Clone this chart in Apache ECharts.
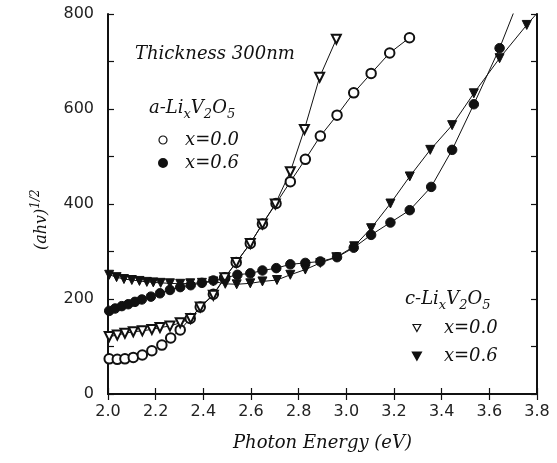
<!DOCTYPE html>
<html>
<head>
<meta charset="utf-8">
<script src="https://cdn.jsdelivr.net/npm/echarts@6/dist/echarts.min.js"></script>
<style>
  html, body { margin: 0; padding: 0; background: #fff; }
  #chart { width: 557px; height: 463px; }
</style>
</head>
<body>
<div id="chart"></div>
<script>
// a-LixV2O5, x = 0.0 (open circles)
const aZeroE = [2.005, 2.039, 2.071, 2.106, 2.144, 2.184, 2.226, 2.263, 2.303, 2.345, 2.387, 2.442, 2.49, 2.538, 2.597, 2.648, 2.705, 2.765, 2.828, 2.891, 2.961, 3.031, 3.104, 3.182, 3.265]
const aZeroV = [74, 73, 74, 77, 82, 91, 103, 118, 135, 159, 183, 210, 245, 277, 317, 358, 401, 447, 494, 543, 587, 634, 675, 718, 750]

// a-LixV2O5, x = 0.6 (filled circles)
const aSixE = [2.005, 2.03, 2.058, 2.085, 2.113, 2.142, 2.18, 2.218, 2.26, 2.303, 2.347, 2.394, 2.442, 2.487, 2.543, 2.597, 2.648, 2.706, 2.765, 2.828, 2.891, 2.961, 3.031, 3.104, 3.185, 3.266, 3.356, 3.444, 3.535, 3.643, 3.735]
const aSixV = [175, 180, 185, 189, 194, 199, 205, 212, 219, 225, 229, 234, 239, 244, 251, 254, 260, 265, 273, 276, 279, 288, 308, 335, 361, 387, 436, 514, 610, 728, 845]

// c-LixV2O5, x = 0.0 (open triangles)
const cZeroE = [2.005, 2.039, 2.071, 2.106, 2.144, 2.184, 2.218, 2.26, 2.303, 2.347, 2.387, 2.442, 2.49, 2.538, 2.597, 2.648, 2.702, 2.765, 2.824, 2.888, 2.958]
const cZeroV = [121, 124, 128, 131, 133, 136, 140, 143, 150, 159, 183, 208, 245, 277, 317, 358, 400, 468, 557, 667, 747]

// c-LixV2O5, x = 0.6 (filled triangles)
const cSixE = [2.005, 2.036, 2.067, 2.1, 2.132, 2.163, 2.19, 2.221, 2.26, 2.303, 2.345, 2.394, 2.442, 2.492, 2.54, 2.597, 2.648, 2.709, 2.765, 2.828, 2.891, 2.958, 3.033, 3.104, 3.185, 3.266, 3.352, 3.444, 3.535, 3.643, 3.757, 3.85]
const cSixV = [251, 246, 242, 240, 238, 236, 235, 234, 233, 232, 233, 234, 237, 232, 231, 233, 237, 240, 251, 262, 276, 288, 311, 349, 401, 458, 514, 566, 633, 707, 777, 830]

const xTicks = ['2.0', '2.2', '2.4', '2.6', '2.8', '3.0', '3.2', '3.4', '3.6', '3.8']
const yTicks = ['0', '200', '400', '600', '800']

const zip = (xs, ys) => xs.map((x, i) => [x, ys[i]])

const serif = 'DejaVu Serif'
const sans = 'DejaVu Sans'
const ink = '#111'
const downTri = 'path://M0,0 L10,0 L5,9 Z'

const chart = echarts.init(document.getElementById('chart'))

const lineSeries = (name, data, symbol, filled, rotate) => ({
  name,
  type: 'line',
  data,
  symbol,
  symbolSize: symbol.includes('ircle') ? 9.5 : 9,
  symbolRotate: rotate,
  clip: true,
  lineStyle: { color: ink, width: 1 },
  itemStyle: filled
    ? { color: ink, borderColor: ink, borderWidth: 1 }
    : { color: ink, borderColor: ink, borderWidth: 1.2 },
})

const frameAxis = {
  axisLine: { show: true, lineStyle: { color: ink, width: 2 } },
  axisTick: { show: true, inside: true, length: 6, lineStyle: { color: ink, width: 1.2 } },
  splitLine: { show: false },
}

const legendText = { fontFamily: serif, fontStyle: 'italic', fontSize: 18, lineHeight: 18, color: ink }

const formulaRich = {
  m: { fontFamily: serif, fontStyle: 'italic', fontSize: 18, fill: ink },
  s: { fontFamily: serif, fontStyle: 'italic', fontSize: 13, fill: ink, padding: [13, 0, 0, 0] },
}

chart.setOption({
  animation: false,
  grid: { left: 108, right: 20, top: 14, bottom: 69 },
  xAxis: [
    {
      type: 'value', min: 2.0, max: 3.8, interval: 0.2, position: 'bottom',
      ...frameAxis,
      axisLabel: {
        color: '#222', fontFamily: sans, fontSize: 16, margin: 10,
        formatter: (v) => xTicks.find((t) => Math.abs(parseFloat(t) - v) < 1e-6) || '',
      },
      name: 'Photon Energy (eV)', nameLocation: 'middle', nameGap: 40,
      nameTextStyle: { fontFamily: serif, fontStyle: 'italic', fontSize: 18, color: ink },
    },
    {
      type: 'value', min: 2.0, max: 3.8, interval: 0.2, position: 'top',
      ...frameAxis, axisLabel: { show: false },
    },
  ],
  yAxis: [
    {
      type: 'value', min: 0, max: 800, interval: 100, position: 'left',
      ...frameAxis,
      axisLabel: {
        color: '#222', fontFamily: sans, fontSize: 16, margin: 14,
        formatter: (v) => (yTicks.includes(String(v)) ? String(v) : ''),
      },
    },
    {
      type: 'value', min: 0, max: 800, interval: 100, position: 'right',
      ...frameAxis, axisLabel: { show: false },
    },
  ],
  legend: [
    {
      left: 158, top: 131, orient: 'vertical', itemGap: 5, padding: 0,
      itemWidth: 8, itemHeight: 8,
      data: [
        { name: 'a00', icon: 'circle', itemStyle: { color: '#fff', borderColor: ink, borderWidth: 1.2 } },
        { name: 'a06', icon: 'circle', itemStyle: { color: ink, borderColor: ink } },
      ],
      formatter: (n) => (n === 'a00' ? 'x=0.0' : 'x=0.6'),
      textStyle: { ...legendText, padding: [0, 0, 0, 13] },
    },
    {
      left: 412, top: 319, orient: 'vertical', itemGap: 10, padding: 0,
      itemWidth: 8, itemHeight: 7,
      data: [
        { name: 'c00', icon: downTri, itemStyle: { color: '#fff', borderColor: ink, borderWidth: 1.2 } },
        { name: 'c06', icon: downTri, itemStyle: { color: ink, borderColor: ink } },
      ],
      formatter: (n) => (n === 'c00' ? 'x=0.0' : 'x=0.6'),
      textStyle: { ...legendText, padding: [0, 0, 0, 18] },
    },
  ],
  graphic: [
    {
      type: 'text', left: 135, top: 45,
      style: { text: 'Thickness 300nm', font: `italic 18px "${serif}"`, fill: ink },
    },
    {
      type: 'text', left: 149, top: 99,
      style: { text: '{m|a-Li}{s|x}{m|V}{s|2}{m|O}{s|5}', rich: formulaRich },
    },
    {
      type: 'text', left: 405, top: 290,
      style: { text: '{m|c-Li}{s|x}{m|V}{s|2}{m|O}{s|5}', rich: formulaRich },
    },
    {
      type: 'text', x: 30, y: 250, rotation: Math.PI / 2,
      style: {
        text: '{m|(ahv)}{s|1/2}',
        rich: {
          m: { fontFamily: serif, fontStyle: 'italic', fontSize: 16, fill: ink },
          s: { fontFamily: serif, fontStyle: 'italic', fontSize: 12, fill: ink, padding: [0, 0, 12, 0] },
        },
      },
    },
  ],
  series: [
    lineSeries('a00', zip(aZeroE, aZeroV), 'emptyCircle', false, 0),
    lineSeries('a06', zip(aSixE, aSixV), 'circle', true, 0),
    lineSeries('c00', zip(cZeroE, cZeroV), 'emptyTriangle', false, 180),
    lineSeries('c06', zip(cSixE, cSixV), 'triangle', true, 180),
  ],
})

window.addEventListener('resize', () => chart.resize())
</script>
</body>
</html>
